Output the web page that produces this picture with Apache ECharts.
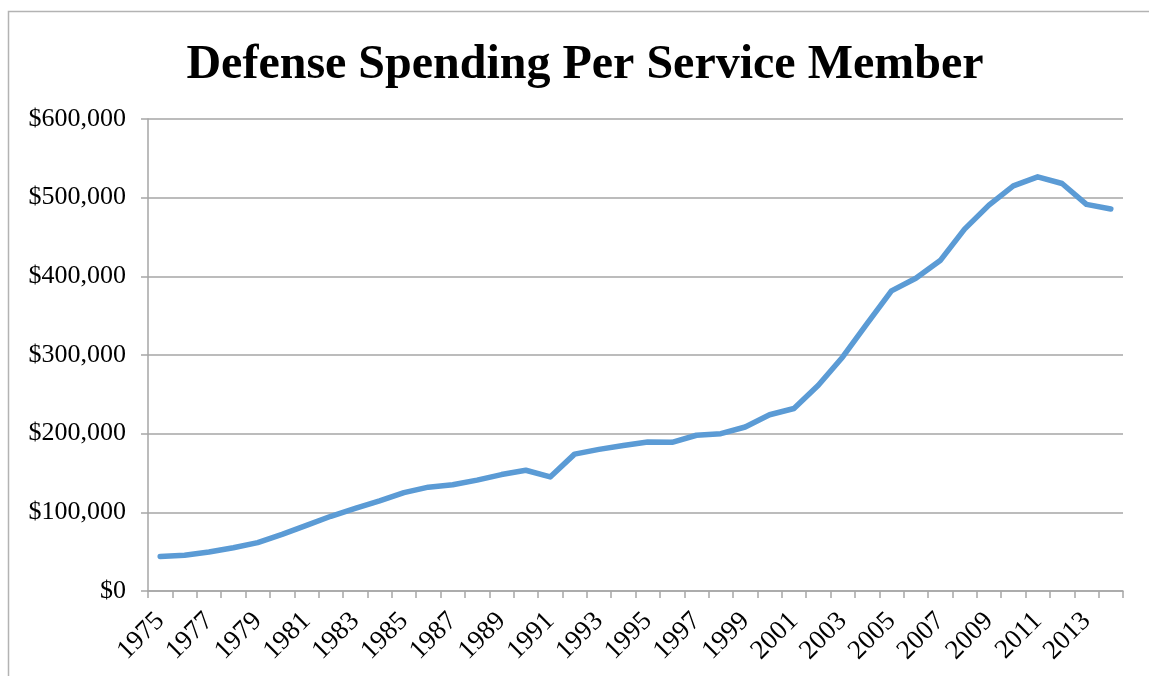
<!DOCTYPE html>
<html>
<head>
<meta charset="utf-8">
<title>Defense Spending Per Service Member</title>
<script src="https://cdn.jsdelivr.net/npm/echarts@6/dist/echarts.min.js"></script>
<style>
  html, body { margin: 0; padding: 0; background: #fff; }
  #chart { width: 1149px; height: 676px; }
</style>
</head>
<body>
<div id="chart"></div>
<script>
// years on the x axis
var years = [];
for (var y = 1975; y <= 2014; y++) years.push(String(y));

// spending per service member (dollars)
var spending = [
  44000, 45500, 49500, 55000, 61500, 72000, 83500, 95000, 105000, 114500,
  125000, 132000, 135000, 141000, 148000, 153500, 145000, 174000, 180000, 185000,
  189500, 189000, 198000, 200000, 208500, 224000, 232000, 261500, 297500, 340000,
  381500, 397500, 420000, 460000, 490500, 515000, 526500, 518000, 491500, 485500
];

var chart = echarts.init(document.getElementById('chart'));

var serif = '"Liberation Serif", "Times New Roman", serif';

var option = {
  animation: false,
  backgroundColor: '#fff',
  title: {
    text: 'Defense Spending Per Service Member',
    left: 580,
    top: 37,
    textAlign: 'center',
    textStyle: {
      fontFamily: serif,
      fontWeight: 'bold',
      fontSize: 48,
      color: '#000'
    }
  },
  // outer frame, only the top and left edges are visible in the picture
  graphic: [{
    type: 'rect',
    shape: { x: 8.5, y: 11.5, width: 1200, height: 700 },
    style: { fill: 'none', stroke: '#b3b3b3', lineWidth: 1.5 },
    silent: true
  }],
  grid: {
    left: 148,
    right: 26,
    top: 119,
    bottom: 85
  },
  xAxis: {
    type: 'category',
    data: years,
    boundaryGap: true,
    axisLine: { lineStyle: { color: '#a6a6a6', width: 1.5 } },
    axisTick: {
      show: true,
      interval: 0,
      length: 7,
      lineStyle: { color: '#a6a6a6', width: 1.5 }
    },
    axisLabel: {
      interval: 1,
      rotate: 45,
      margin: 26,
      fontFamily: serif,
      fontSize: 27,
      color: '#000'
    },
    splitLine: { show: false }
  },
  yAxis: {
    type: 'value',
    min: 0,
    max: 600000,
    interval: 100000,
    axisLine: { show: true, lineStyle: { color: '#a6a6a6', width: 1.5 } },
    axisTick: {
      show: true,
      length: 7,
      lineStyle: { color: '#a6a6a6', width: 1.5 }
    },
    axisLabel: {
      margin: 22,
      fontFamily: serif,
      fontSize: 26,
      color: '#000',
      formatter: function (v) {
        return '$' + v.toLocaleString('en-US');
      }
    },
    splitLine: { lineStyle: { color: '#a6a6a6', width: 1.5 } }
  },
  series: [{
    type: 'line',
    data: spending,
    showSymbol: false,
    smooth: false,
    lineStyle: { color: '#5b9bd5', width: 5.5, cap: 'round', join: 'round' },
    itemStyle: { color: '#5b9bd5' }
  }]
};

chart.setOption(option);
</script>
</body>
</html>
